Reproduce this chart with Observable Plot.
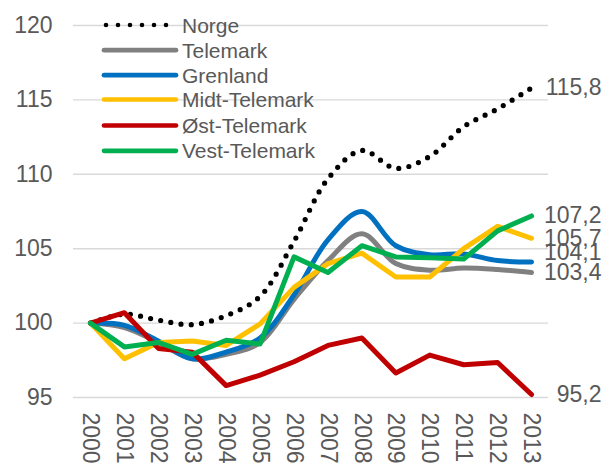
<!DOCTYPE html>
<html><head><meta charset="utf-8">
<script src="https://cdn.jsdelivr.net/npm/d3@7"></script>
<script src="https://cdn.jsdelivr.net/npm/@observablehq/plot@0.6"></script>
<style>
html,body{margin:0;padding:0;background:#fff;}
#wrap{position:relative;width:606px;height:464px;font-family:"Liberation Sans",Arial,sans-serif;}
#legend{position:absolute;left:0;top:0;pointer-events:none;}
</style></head><body><div id="wrap"></div>
<script>
const years = [2000,2001,2002,2003,2004,2005,2006,2007,2008,2009,2010,2011,2012,2013];
const seriesNames = ["Norge","Telemark","Grenland","Midt-Telemark","Øst-Telemark","Vest-Telemark"];
const norge    = [100,100.6,100.2,99.9,100.5,101.8,105.5,109.7,111.6,110.4,111.2,113.2,114.4,115.8];
const telemark = [100,99.7,98.7,97.6,97.9,98.7,101.6,104.2,106.0,104.0,103.55,103.7,103.6,103.4];
const grenland = [100,99.85,98.8,97.6,98.05,99.0,101.9,105.6,107.5,105.2,104.6,104.65,104.2,104.1];
const midt     = [100,97.6,98.7,98.8,98.5,99.95,102.4,104.0,104.7,103.1,103.1,105.0,106.5,105.7];
const ost      = [100,100.7,98.3,98.05,95.8,96.5,97.4,98.5,99.0,96.65,97.85,97.2,97.35,95.2];
const vest     = [100,98.4,98.7,97.9,98.85,98.6,104.45,103.4,105.2,104.45,104.4,104.3,106.2,107.2];
const yTicks = [95,100,105,110,115,120];

const seriesValues = [norge, telemark, grenland, midt, ost, vest];
const seriesColors = ["#000000","#808080","#0070C0","#FFC000","#C00000","#00B050"];
const smoothSeries = ["Norge","Telemark","Grenland"];

const rows = seriesNames.flatMap((name, i) =>
  years.map((year, j) => ({series: name, year, value: seriesValues[i][j]})));
const lastRows = rows.filter(d => d.year === years[years.length - 1]);
const fmt = v => v.toFixed(1).replace(".", ",");
const textColor = "#595959";

const lineMarks = seriesNames.map((name, i) => {
  const opts = {
    filter: d => d.series === name,
    x: "year", y: "value",
    stroke: seriesColors[i],
    strokeWidth: 5,
    curve: smoothSeries.includes(name) ? "catmull-rom" : "linear",
    strokeLinejoin: "round",
    strokeLinecap: "round"
  };
  if (name === "Norge") {
    opts.strokeDasharray = "0 10.3";
    opts.strokeWidth = 5.2;
  }
  return Plot.line(rows, opts);
});

const chart = Plot.plot({
  width: 606,
  height: 464,
  marginLeft: 73,
  marginRight: 58,
  marginTop: 25,
  marginBottom: 67,
  style: {fontFamily: '"Liberation Sans", Arial, sans-serif', color: textColor, background: "white"},
  x: {type: "point", domain: years, padding: 0.5, round: false},
  y: {domain: [95, 120]},
  marks: [
    Plot.ruleY(yTicks, {stroke: "#d9d9d9", strokeWidth: 1.4}),
    Plot.axisY({ticks: yTicks, tickSize: 0, tickPadding: 21, fontSize: 23, fill: textColor, label: null}),
    Plot.axisX({tickSize: 0, tickPadding: 15, tickRotate: 90, fontSize: 23, fill: textColor, label: null, tickFormat: d => String(d)}),
    ...lineMarks,
    Plot.text(lastRows, {filter: d => d.series !== "Grenland", x: "year", y: "value", text: d => fmt(d.value), textAnchor: "end", dx: 70, fontSize: 23, fill: textColor}),
    Plot.text(lastRows, {filter: d => d.series === "Grenland", x: "year", y: "value", text: d => fmt(d.value), textAnchor: "end", dx: 70, dy: -9, fontSize: 23, fill: textColor})
  ]
});

const wrap = document.getElementById("wrap");
wrap.appendChild(chart);

// Legend overlay (inside plot area, top-left)
const ns = "http://www.w3.org/2000/svg";
const leg = document.createElementNS(ns, "svg");
leg.setAttribute("id", "legend");
leg.setAttribute("width", 606);
leg.setAttribute("height", 464);
const rowY = [25, 50.2, 75.2, 99.5, 125.5, 150.8];
seriesNames.forEach((name, i) => {
  const ln = document.createElementNS(ns, "line");
  ln.setAttribute("x1", name === "Norge" ? 106 : 104);
  ln.setAttribute("x2", name === "Norge" ? 167 : 176);
  ln.setAttribute("y1", rowY[i]);
  ln.setAttribute("y2", rowY[i]);
  ln.setAttribute("stroke", seriesColors[i]);
  ln.setAttribute("stroke-linecap", "round");
  if (name === "Norge") {
    ln.setAttribute("stroke-width", 4.6);
    ln.setAttribute("stroke-dasharray", "0 12");
  } else {
    ln.setAttribute("stroke-width", 4.7);
  }
  leg.appendChild(ln);
  const t = document.createElementNS(ns, "text");
  t.setAttribute("x", 182);
  t.setAttribute("y", rowY[i]);
  t.setAttribute("dy", "0.36em");
  t.setAttribute("fill", textColor);
  t.setAttribute("font-size", 21);
  t.setAttribute("font-family", '"Liberation Sans", Arial, sans-serif');
  t.textContent = name;
  leg.appendChild(t);
});
wrap.appendChild(leg);
</script></body></html>
